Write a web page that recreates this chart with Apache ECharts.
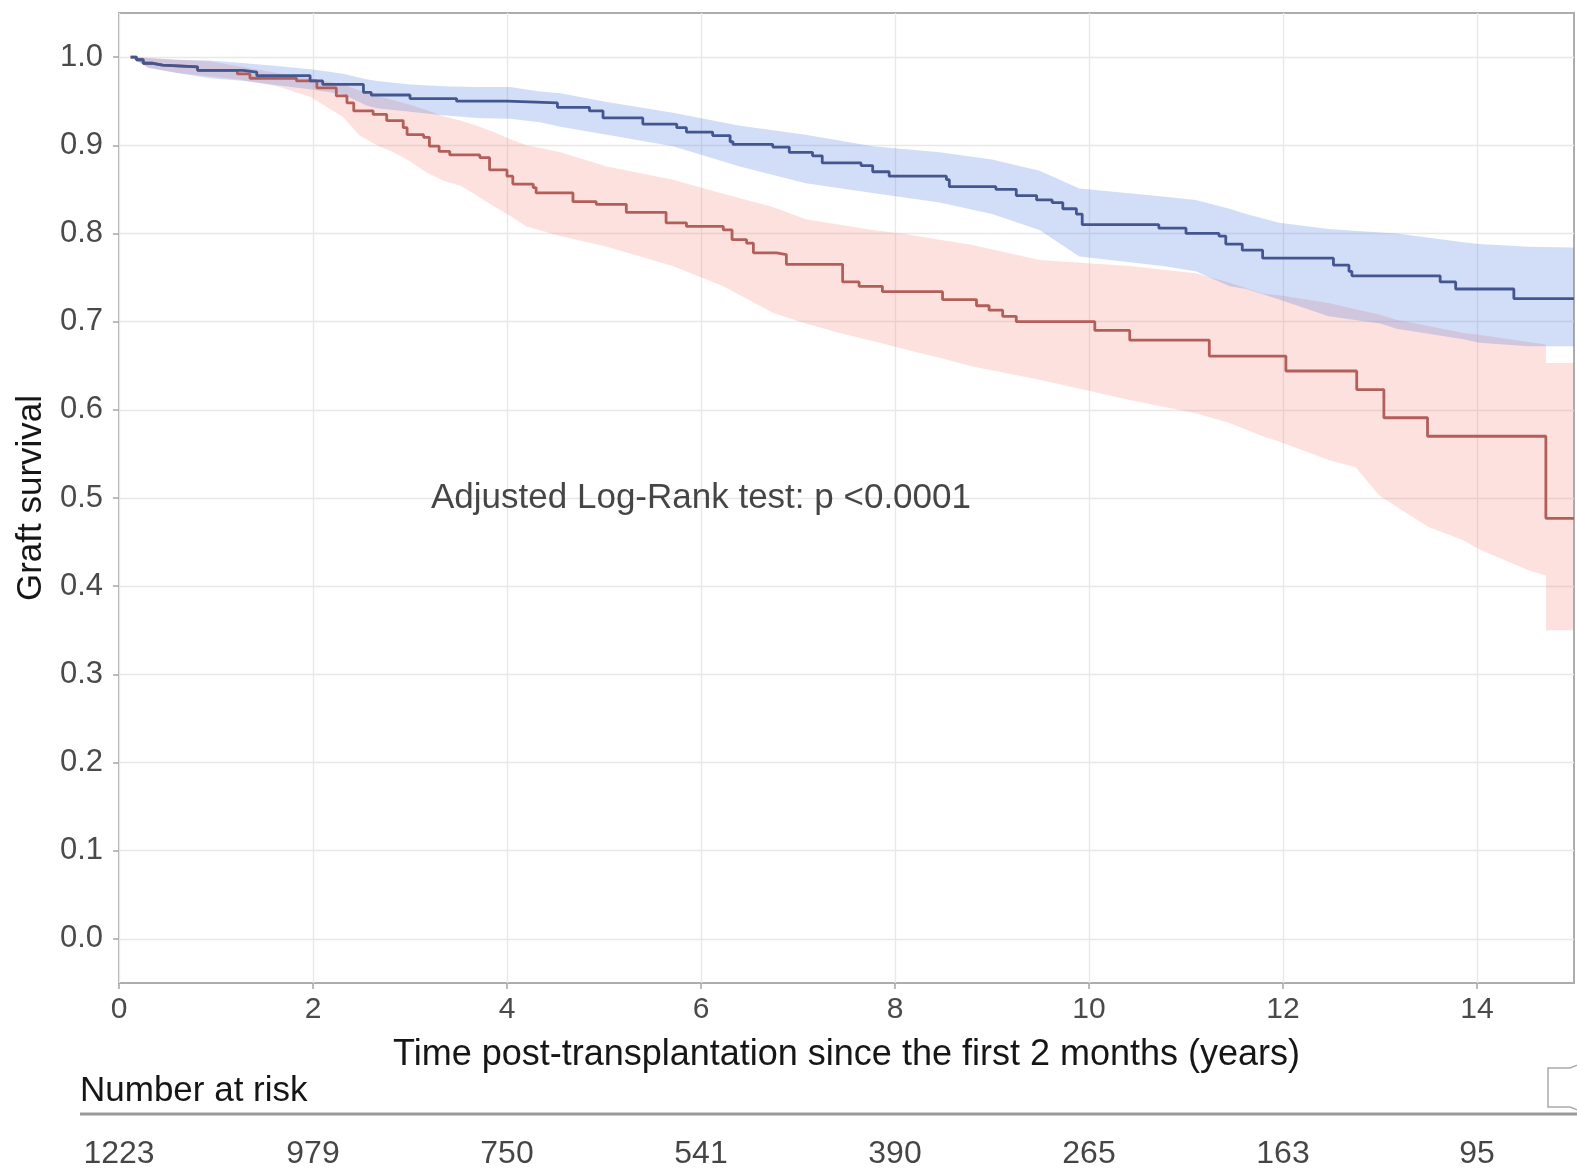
<!DOCTYPE html>
<html>
<head>
<meta charset="utf-8">
<script src="https://cdn.jsdelivr.net/npm/echarts@6/dist/echarts.min.js"></script>
<style>
html,body{margin:0;padding:0;background:#fff;}
#chart{width:1577px;height:1175px;}
</style>
</head>
<body>
<div id="chart"></div>
<script>
// ---- Data ----
const xTicks = [0, 2, 4, 6, 8, 10, 12, 14];
const yTicks = [0, 0.1, 0.2, 0.3, 0.4, 0.5, 0.6, 0.7, 0.8, 0.9, 1.0];

const riskTimes = [0, 2, 4, 6, 8, 10, 12, 14];
const riskCounts = [1223, 979, 750, 541, 390, 265, 163, 95];

const xTitle = 'Time post-transplantation since the first 2 months (years)';
const yTitle = 'Graft survival';
const riskTitle = 'Number at risk';
const annotationText = 'Adjusted Log-Rank test: p <0.0001';
const annotationPos = [6, 0.5];

// Blue group: Kaplan-Meier steps
const blueTime = [0.12, 0.18, 0.25, 0.35, 0.45, 0.81, 1.28, 1.42, 1.97, 2.1, 2.52, 2.6, 3.0, 3.48, 4.0, 4.52, 4.85, 4.99, 5.4, 5.75, 5.85, 6.12, 6.3, 6.33, 6.74, 6.91, 7.15, 7.25, 7.65, 7.77, 7.94, 8.53, 8.56, 9.04, 9.25, 9.46, 9.62, 9.73, 9.87, 9.93, 10.72, 11.0, 11.34, 11.41, 11.58, 11.79, 12.52, 12.68, 12.71, 13.62, 13.78, 14.38, 15.0];
const blueSurv = [1.0, 0.997, 0.993, 0.991, 0.989, 0.985, 0.983, 0.979, 0.973, 0.969, 0.96, 0.957, 0.953, 0.95, 0.948, 0.943, 0.939, 0.931, 0.924, 0.92, 0.915, 0.911, 0.904, 0.901, 0.898, 0.892, 0.888, 0.88, 0.877, 0.87, 0.865, 0.861, 0.853, 0.85, 0.843, 0.838, 0.835, 0.828, 0.822, 0.81, 0.806, 0.8, 0.797, 0.788, 0.781, 0.772, 0.764, 0.757, 0.752, 0.745, 0.737, 0.726, 0.726];

// Red group: Kaplan-Meier steps
const redTime = [0.12, 0.18, 0.25, 0.35, 0.45, 0.81, 1.22, 1.35, 1.83, 2.04, 2.24, 2.35, 2.42, 2.62, 2.76, 2.93, 2.97, 3.14, 3.2, 3.3, 3.41, 3.72, 3.82, 4.0, 4.06, 4.27, 4.3, 4.68, 4.92, 5.23, 5.64, 5.85, 6.23, 6.32, 6.47, 6.54, 6.78, 6.88, 7.46, 7.63, 7.87, 8.49, 8.84, 8.97, 9.11, 9.25, 10.06, 10.42, 11.24, 12.03, 12.76, 13.04, 13.49, 14.71, 15.0];
const redSurv = [1.0, 0.997, 0.993, 0.991, 0.989, 0.985, 0.981, 0.976, 0.973, 0.965, 0.956, 0.948, 0.939, 0.935, 0.928, 0.92, 0.912, 0.909, 0.899, 0.893, 0.889, 0.886, 0.872, 0.865, 0.856, 0.852, 0.846, 0.836, 0.833, 0.824, 0.812, 0.808, 0.804, 0.793, 0.789, 0.778, 0.776, 0.765, 0.745, 0.74, 0.734, 0.725, 0.718, 0.713, 0.706, 0.7, 0.69, 0.679, 0.661, 0.644, 0.623, 0.591, 0.57, 0.477, 0.477];

// Confidence bands
const blueBandTime  = [0.12, 0.3, 0.6, 0.94, 1.3, 1.63, 2.0, 2.31, 2.55, 2.66, 3.0, 3.34, 3.69, 4.03, 4.34, 4.55, 5.03, 5.71, 6.4, 7.08, 7.77, 8.46, 9.0, 9.49, 9.9, 10.76, 11.1, 11.45, 11.62, 11.96, 12.47, 13.0, 13.17, 13.86, 14.02, 14.53, 15.0];
const blueBandUpper = [1.0, 0.999, 0.997, 0.996, 0.993, 0.99, 0.986, 0.981, 0.975, 0.973, 0.969, 0.967, 0.966, 0.966, 0.961, 0.959, 0.949, 0.937, 0.922, 0.912, 0.899, 0.892, 0.884, 0.871, 0.851, 0.842, 0.838, 0.828, 0.822, 0.812, 0.805, 0.801, 0.8, 0.79, 0.788, 0.785, 0.784];
const blueBandLower = [1.0, 0.988, 0.982, 0.976, 0.973, 0.968, 0.963, 0.958, 0.945, 0.942, 0.938, 0.934, 0.931, 0.93, 0.926, 0.921, 0.912, 0.899, 0.876, 0.857, 0.846, 0.835, 0.822, 0.804, 0.774, 0.763, 0.757, 0.74, 0.737, 0.725, 0.706, 0.698, 0.692, 0.68, 0.676, 0.672, 0.672];

const redBandTime  = [0.12, 0.3, 0.6, 0.94, 1.22, 1.63, 1.97, 2.31, 2.48, 2.66, 2.83, 3.0, 3.17, 3.34, 3.52, 3.69, 3.86, 4.03, 4.2, 4.55, 5.03, 5.71, 6.23, 6.74, 7.08, 7.43, 7.77, 8.12, 8.46, 8.8, 9.49, 10.42, 11.1, 11.45, 11.79, 11.96, 12.47, 12.75, 12.99, 13.17, 13.5, 13.86, 14.02, 14.53, 14.71, 14.711, 15.0];
const redBandUpper = [1.0, 0.999, 0.997, 0.995, 0.99, 0.982, 0.976, 0.969, 0.962, 0.956, 0.951, 0.946, 0.94, 0.933, 0.928, 0.922, 0.915, 0.907, 0.9, 0.892, 0.876, 0.861, 0.845, 0.83, 0.816, 0.81, 0.804, 0.799, 0.793, 0.787, 0.77, 0.763, 0.755, 0.744, 0.732, 0.73, 0.721, 0.714, 0.708, 0.702, 0.695, 0.687, 0.685, 0.677, 0.674, 0.653, 0.653];
const redBandLower = [1.0, 0.988, 0.982, 0.978, 0.975, 0.967, 0.955, 0.932, 0.911, 0.9, 0.892, 0.882, 0.869, 0.86, 0.854, 0.843, 0.831, 0.82, 0.808, 0.797, 0.785, 0.763, 0.74, 0.71, 0.698, 0.687, 0.678, 0.668, 0.659, 0.649, 0.634, 0.611, 0.596, 0.585, 0.57, 0.564, 0.543, 0.535, 0.503, 0.49, 0.467, 0.452, 0.442, 0.418, 0.412, 0.35, 0.35];

// ---- Styles ----
const FONT = "'Liberation Sans', Arial, Helvetica, sans-serif";
const BLUE_LINE = '#44568f';
const RED_LINE = '#b25e59';
const BLUE_BAND = 'rgba(90,130,225,0.27)';
const RED_BAND = 'rgba(248,118,109,0.22)';
const GRID_LINE = '#e8e8e8';

function zip(a, b) { return a.map((v, i) => [v, b[i]]); }

function bandRenderer(times, upper, lower, fill) {
  return function (params, api) {
    const pts = [];
    for (let i = 0; i < times.length; i++) pts.push(api.coord([times[i], upper[i]]));
    for (let i = times.length - 1; i >= 0; i--) pts.push(api.coord([times[i], lower[i]]));
    return { type: 'polygon', shape: { points: pts }, style: { fill: fill } };
  };
}

const chart = echarts.init(document.getElementById('chart'), null, { renderer: 'canvas' });

const option = {
  animation: false,
  backgroundColor: '#ffffff',
  textStyle: { fontFamily: FONT },
  grid: [
    { left: 119, right: 3, top: 13, bottom: 192, show: true, borderColor: '#adadad', borderWidth: 2, backgroundColor: 'transparent', containLabel: false },
    { left: 119, right: 3, top: 1134, height: 46, show: false, containLabel: false }
  ],
  xAxis: [
    {
      type: 'value', gridIndex: 0, min: 0, max: 15, interval: 1,
      name: xTitle, nameLocation: 'middle', nameGap: 54,
      nameTextStyle: { fontSize: 36, color: '#161616', fontFamily: FONT },
      axisLine: { show: false, onZero: false },
      axisTick: { show: true, customValues: xTicks, length: 6, lineStyle: { color: '#a6a6a6', width: 1.5 } },
      axisLabel: { show: true, customValues: xTicks, margin: 12, fontSize: 30, color: '#4a4a4a', fontFamily: FONT,
        formatter: function (v) { return String(Math.round(v)); } },
      splitLine: { show: true, lineStyle: { color: GRID_LINE, width: 1.4 } }
    },
    {
      type: 'value', gridIndex: 1, min: 0, max: 15, show: false
    }
  ],
  yAxis: [
    {
      type: 'value', gridIndex: 0, min: -0.05, max: 1.05, interval: 0.05,
      name: yTitle, nameLocation: 'middle', nameGap: 70, nameRotate: 90,
      nameTextStyle: { fontSize: 35, color: '#161616', fontFamily: FONT },
      axisLine: { show: false, onZero: false },
      axisTick: { show: true, customValues: yTicks, length: 6, lineStyle: { color: '#a6a6a6', width: 1.5 } },
      axisLabel: { show: true, customValues: yTicks, margin: 16, fontSize: 31, color: '#4a4a4a', fontFamily: FONT,
        formatter: function (v) { return (Math.round(v * 10) / 10).toFixed(1); } },
      splitLine: { show: true, lineStyle: { color: GRID_LINE, width: 1.4 } }
    },
    {
      type: 'value', gridIndex: 1, min: 0, max: 1, show: false
    }
  ],
  series: [
    {
      type: 'custom', name: 'redBand', xAxisIndex: 0, yAxisIndex: 0, z: 2, silent: true,
      renderItem: bandRenderer(redBandTime, redBandUpper, redBandLower, RED_BAND),
      data: [[0, 0]], encode: { x: 0, y: 1 }
    },
    {
      type: 'custom', name: 'blueBand', xAxisIndex: 0, yAxisIndex: 0, z: 2, silent: true,
      renderItem: bandRenderer(blueBandTime, blueBandUpper, blueBandLower, BLUE_BAND),
      data: [[0, 0]], encode: { x: 0, y: 1 }
    },
    {
      type: 'line', name: 'red', xAxisIndex: 0, yAxisIndex: 0, z: 3,
      data: zip(redTime, redSurv), step: 'end', showSymbol: false, symbol: 'none',
      lineStyle: { color: RED_LINE, width: 2.8 }, silent: true
    },
    {
      type: 'line', name: 'blue', xAxisIndex: 0, yAxisIndex: 0, z: 4,
      data: zip(blueTime, blueSurv), step: 'end', showSymbol: false, symbol: 'none',
      lineStyle: { color: BLUE_LINE, width: 2.8 }, silent: true
    },
    {
      type: 'scatter', name: 'annotation', xAxisIndex: 0, yAxisIndex: 0, z: 5, silent: true,
      data: [annotationPos], symbolSize: 1, itemStyle: { color: 'rgba(0,0,0,0)' },
      label: { show: true, position: 'inside', formatter: annotationText, fontSize: 35, color: '#161616', fontFamily: FONT }
    },
    {
      type: 'scatter', name: 'risk', xAxisIndex: 1, yAxisIndex: 1, z: 5, silent: true,
      data: riskTimes.map((t, i) => [t, 0.5, riskCounts[i]]), symbolSize: 1, itemStyle: { color: 'rgba(0,0,0,0)' },
      label: { show: true, position: 'inside', fontSize: 32, color: '#161616', fontFamily: FONT,
        formatter: function (p) { return String(p.value[2]); } }
    }
  ],
  graphic: [
    { type: 'text', left: 80, top: 1074, style: { text: riskTitle, fontSize: 35, fill: '#161616', fontFamily: FONT } },
    { type: 'line', shape: { x1: 80, y1: 1114, x2: 1577, y2: 1114 }, style: { stroke: '#9a9a9a', lineWidth: 3 } },
    { type: 'polyline', shape: { points: [[1590, 1060], [1570, 1068], [1548, 1068], [1548, 1107], [1570, 1107], [1590, 1115]] }, style: { stroke: '#aaaaaa', lineWidth: 1.5, fill: 'rgba(0,0,0,0)' } }
  ]
};

chart.setOption(option);
</script>
</body>
</html>
